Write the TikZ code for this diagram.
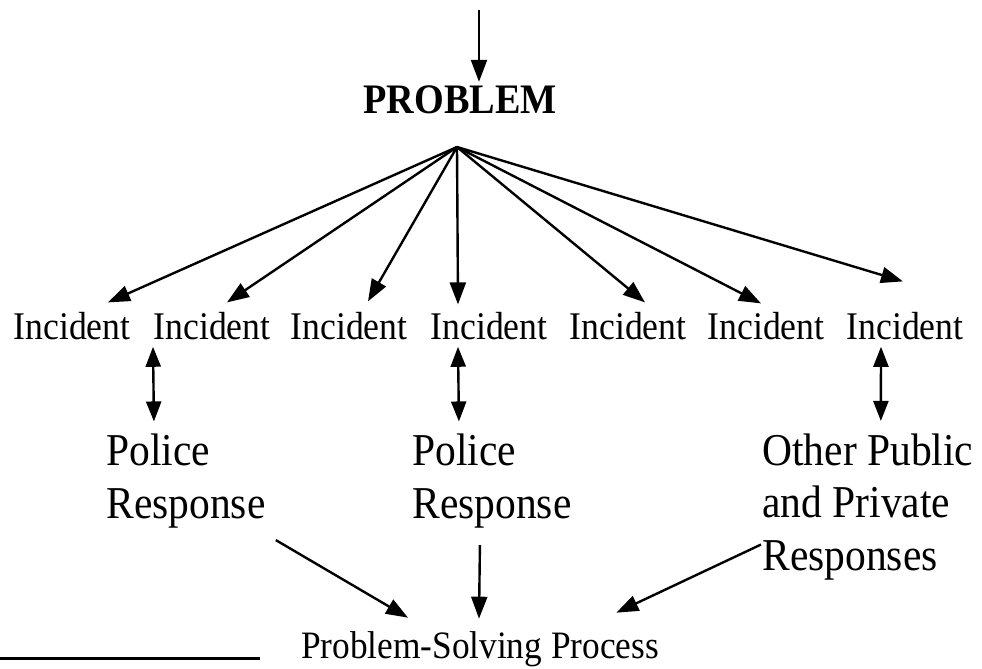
\documentclass[tikz,border=0pt]{standalone}
\usepackage{fontspec}
\setmainfont[FakeStretch=0.91]{Liberation Serif}
\usetikzlibrary{arrows.meta}

\begin{document}
\begin{tikzpicture}[x=0.5pt,y=-0.5pt,
        arr/.style={line width=1.2pt,-{Triangle[length=11pt,width=8pt]}},
        dbl/.style={line width=1.2pt,{Triangle[length=10pt,width=7.5pt]}-{Triangle[length=10pt,width=7.5pt]}},
        inc/.style={anchor=base,inner sep=2pt,font=\fontsize{19.6pt}{23pt}\selectfont},
        resp/.style={anchor=base west,inner sep=2pt,align=left,font=\fontsize{22.8pt}{26.25pt}\selectfont}]
        \useasboundingbox (0,0) rectangle (982,669);
        % problem
        \node[anchor=base,inner sep=2pt,font=\fontsize{21pt}{24pt}\selectfont\bfseries] (problem) at (460,113) {PROBLEM};
        \coordinate (in) at (479,10);
        \coordinate (fan) at (457,147);
        \draw[arr] (in) -- ([shift={(19,1)}]problem.north);
        % incidents
        \node[inc] (inc1) at (72,339) {Incident};
        \node[inc] (inc2) at (212,339) {Incident};
        \node[inc] (inc3) at (349,339) {Incident};
        \node[inc] (inc4) at (489,339) {Incident};
        \node[inc] (inc5) at (628,339) {Incident};
        \node[inc] (inc6) at (766,339) {Incident};
        \node[inc] (inc7) at (905,339) {Incident};
        \draw[arr] (fan) -- ([shift={(36,-5)}]inc1.north);
        \draw[arr] (fan) -- ([shift={(15,-5)}]inc2.north);
        \draw[arr] (fan) -- ([shift={(19,-6)}]inc3.north);
        \draw[arr] (fan) -- ([shift={(-31,-3)}]inc4.north);
        \draw[arr] (fan) -- ([shift={(17,-5)}]inc5.north);
        \draw[arr] (fan) -- ([shift={(-5,-4)}]inc6.north);
        \draw[arr] (fan) -- ([shift={(-2,-26)}]inc7.north);
        % responses
        \node[resp] (resp1) at (102,518) {Police\\Response};
        \node[resp] (resp2) at (408,518) {Police\\Response};
        \node[resp] (resp3) at (758,570) {Other Public\\and Private\\Responses};
        \draw[dbl] ([shift={(-59,3)}]inc2.south) -- ([shift={(-32,-8)}]resp1.north);
        \draw[dbl] ([shift={(-31,3)}]inc4.south) -- ([shift={(-33,-8)}]resp2.north);
        \draw[dbl] ([shift={(-24,3)}]inc7.south) -- ([shift={(13,-8)}]resp3.north);
        % process
        \node[anchor=base,inner sep=2pt,font=\fontsize{19.4pt}{22pt}\selectfont] (process) at (480,658) {Problem-Solving Process};
        \draw[arr] ([shift={(6,8)}]resp1.south east) -- ([shift={(-72,-9)}]process.north);
        \draw[arr] ([shift={(-12,13)}]resp2.south) -- ([shift={(-1,-8)}]process.north);
        \draw[arr] ([shift={(3,38)}]resp3.west) -- ([shift={(-47,-14)}]process.north east);
        % rule
        \draw[line width=1.5pt] (0,658) -- (260,658);
\end{tikzpicture}
\end{document}
